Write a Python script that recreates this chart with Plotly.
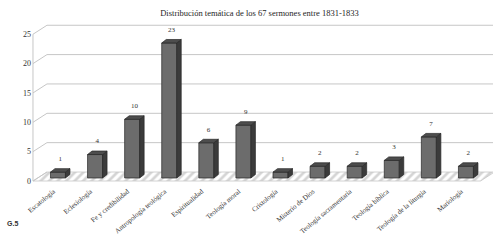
import plotly.graph_objects as go

# ---------------- data ----------------
title_text = "Distribución temática de los 67 sermones entre 1831-1833"
categories = ["Escatología", "Eclesiología", "Fe y credibilidad", "Antropología teológica",
              "Espiritualidad", "Teología moral", "Cristología", "Misterio de Dios",
              "Teología sacramentaria", "Teología bíblica", "Teología de la liturgia", "Mariología"]
values = [1, 4, 10, 23, 6, 9, 1, 2, 2, 3, 7, 2]
y_ticks = [0, 5, 10, 15, 20, 25]
figure_label = "G.5"

# ---------------- geometry (pseudo-3D, in data units) ----------------
PX_X = 37.09   # pixels per category
PX_Y = 5.87    # pixels per unit of value
def ox(px): return px / PX_X
def oy(px): return px / PX_Y

FRONT = (ox(-4.7), oy(-3.0))
BACK = (ox(9.3), oy(6.0))
DEPTH = (ox(4.5), oy(3.5))
BAR_W = ox(15)
L, R = -0.547, 11.52

ML, MR, MT, MB = 32, 7, 20, 62
W, H = 500, 247
x0 = -0.70
X_RANGE = [x0, x0 + (W - ML - MR) / PX_X]
y0 = -(185 - 178) / PX_Y
Y_RANGE = [y0, y0 + (H - MT - MB) / PX_Y]

serif = "Liberation Serif, Times New Roman, serif"
grid_c = "#c6c6c6"

fig = go.Figure()

# floor
fx = [L + FRONT[0], R + FRONT[0], R + BACK[0], L + BACK[0], L + FRONT[0]]
fy = [FRONT[1], FRONT[1], BACK[1], BACK[1], FRONT[1]]
fig.add_trace(go.Scatter(x=fx, y=fy, mode="lines", fill="toself",
                         fillcolor="white",
                         fillpattern=dict(shape="/", size=6, solidity=0.45,
                                          fgcolor="#d4d4d4", bgcolor="white"),
                         line=dict(color=grid_c, width=0.8), hoverinfo="skip"))

# gridlines on back wall + left wall diagonals + left vertical edge
gx, gy = [], []
for v in y_ticks:
    if v > 0:
        gx += [L + BACK[0], R + BACK[0], None]
        gy += [v + BACK[1], v + BACK[1], None]
    gx += [L + FRONT[0], L + BACK[0], None]
    gy += [v + FRONT[1], v + BACK[1], None]
gx += [L + FRONT[0], L + FRONT[0], None]
gy += [y_ticks[0] + FRONT[1], y_ticks[-1] + FRONT[1], None]
fig.add_trace(go.Scatter(x=gx, y=gy, mode="lines", line=dict(color=grid_c, width=1),
                         hoverinfo="skip"))

# bars front faces (overlay axes so they sit above the floor)
idx = list(range(len(categories)))
fig.add_trace(go.Bar(x=idx, y=values, width=BAR_W, xaxis="x2", yaxis="y2",
                     marker=dict(color="#6c6c6c", line=dict(color="#262626", width=0.7)),
                     hoverinfo="skip"))

# side and top faces
sx, sy, tx, ty = [], [], [], []
for i, v in zip(idx, values):
    xr = i + BAR_W / 2
    xl = i - BAR_W / 2
    sx += [xr, xr + DEPTH[0], xr + DEPTH[0], xr, xr, None]
    sy += [0, DEPTH[1], v + DEPTH[1], v, 0, None]
    tx += [xl, xl + DEPTH[0], xr + DEPTH[0], xr, xl, None]
    ty += [v, v + DEPTH[1], v + DEPTH[1], v, v, None]
fig.add_trace(go.Scatter(x=sx, y=sy, mode="lines", fill="toself", fillcolor="#3b3b3b",
                         line=dict(color="#262626", width=0.7), xaxis="x2", yaxis="y2",
                         hoverinfo="skip"))
fig.add_trace(go.Scatter(x=tx, y=ty, mode="lines", fill="toself", fillcolor="#4d4d4d",
                         line=dict(color="#262626", width=0.7), xaxis="x2", yaxis="y2",
                         hoverinfo="skip"))

# value labels
fig.add_trace(go.Scatter(x=[i + DEPTH[0] / 2 for i in idx], y=[v + oy(13) for v in values],
                         mode="text", text=[str(v) for v in values],
                         textposition="middle center",
                         textfont=dict(family=serif, size=7, color="#333333"),
                         xaxis="x2", yaxis="y2", cliponaxis=False, hoverinfo="skip"))

fig.update_layout(
    template="none",
    width=W, height=H,
    margin=dict(l=ML, r=MR, t=MT, b=MB, autoexpand=False),
    paper_bgcolor="white", plot_bgcolor="white",
    showlegend=False,
    hovermode=False,
    title=dict(text=title_text, x=259.5 / W, y=1 - 13.5 / H, xref="container", yref="container",
               xanchor="center", yanchor="middle",
               font=dict(family=serif, size=8.5, color="#1e1e1e")),
    xaxis=dict(range=X_RANGE, showgrid=False, zeroline=False, showline=False, automargin=False,
               tickmode="array", tickvals=[i + FRONT[0] for i in idx], ticktext=categories,
               tickangle=-40, ticks="", tickfont=dict(family=serif, size=7, color="#333333")),
    yaxis=dict(range=Y_RANGE, showgrid=False, zeroline=False, showline=False, automargin=False,
               tickmode="array", tickvals=[v + FRONT[1] for v in y_ticks],
               ticktext=[str(v) for v in y_ticks], ticks="",
               tickfont=dict(family=serif, size=8, color="#333333")),
    xaxis2=dict(range=X_RANGE, overlaying="x", visible=False),
    yaxis2=dict(range=Y_RANGE, overlaying="y", visible=False),
    annotations=[dict(text="<b>" + figure_label + "</b>", xref="paper", yref="paper",
                      x=(12.5 - ML) / (W - ML - MR), y=(185 - 223) / (H - MT - MB),
                      xanchor="center", yanchor="middle", showarrow=False,
                      font=dict(family="Liberation Sans, Arial, sans-serif", size=7, color="#333333"))],
)

fig.write_html("out.html", config={"displayModeBar": False, "staticPlot": True},
               post_script="document.body.style.margin='0';document.body.style.overflow='hidden';")
